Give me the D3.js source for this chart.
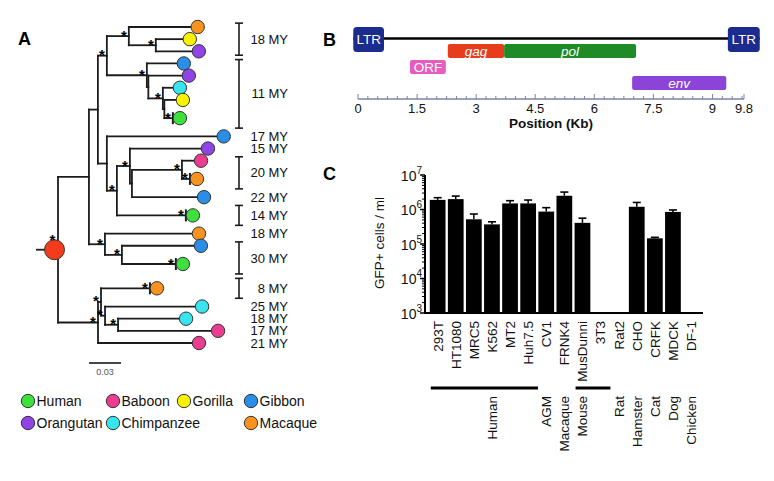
<!DOCTYPE html>
<html><head><meta charset="utf-8">
<script src="https://cdn.jsdelivr.net/npm/d3@7"></script>
<style>
body{margin:0;background:#fff;}
svg{display:block;font-family:"Liberation Sans",Arial,Helvetica,sans-serif;}
</style></head><body>
<svg id="c" width="774" height="481"></svg>
<script>
// ================= DATA =================
// Panel A: species legend
const species = ["Human","Baboon","Gorilla","Gibbon","Orangutan","Chimpanzee","Macaque"];
const speciesColors = ["#3ee03e","#ea3d8f","#f8f200","#2a8de6","#8f45e6","#38e4ee","#f7931e"];
// Panel A: phylogeny (branch lengths in substitutions/site; '*' = supported node, '#' = collapsed clade)
const treeNewick = `(((
  ((Macaque:0.058,(Gorilla:0.0253,Orangutan:0.0338)*:0.0253)*:0.0206,
   (Gibbon:0.0281,(Orangutan:0.0314,(Chimpanzee:0.0094,(Gorilla:0.0108,Human#*:0.008):0.0014)*:0.0136):0.0014)*:0.0375)*:0.0084,
  (Gibbon:0.103,((Orangutan:0.0666,((Baboon:0.0113,Macaque#*:0.0075)*:0.0469,Gibbon:0.061):0.0019)*:0.0122,Human#*:0.0647)*:0.0094):0.0084
 ):0.0084,
 (Macaque:0.0816,(Gibbon:0.0675,Human#*:0.0506)*:0.0159)*:0.015
):0.029,
((Macaque#*:0.0459,(Chimpanzee:0.0844,(Chimpanzee:0.0572,Baboon:0.0872)*:0.0122)*:0.0038)*:0.0028,Baboon:0.0881)*:0.0375
)*;`;
const scaleBarValue = 0.03;
// Panel A: age labels (leaf index ranges, 1-based)
const ageLabels = ["18 MY","11 MY","17 MY","15 MY","20 MY","22 MY","14 MY","18 MY","30 MY","8 MY","25 MY","18 MY","17 MY","21 MY"];
const ageFrom   = [1, 4, 9, 10, 11, 13, 14, 15, 16, 18, 19, 20, 21, 22];
const ageTo     = [3, 8, 9, 10, 12, 13, 14, 15, 17, 18, 19, 20, 21, 22];
const ageBracket= [true,true,false,false,true,false,true,false,true,true,false,false,false,false];

// Panel B: genome map (kb)
const geneNames  = ["LTR","LTR","gag","pol","ORF","env"];
const geneStart  = [-0.12, 9.39, 2.28, 3.71, 1.32, 6.96];
const geneEnd    = [0.66, 10.2, 3.71, 7.06, 2.23, 9.35];
const geneRow    = [0, 0, 1, 1, 2, 3];
const geneItalic = [false,false,true,true,false,true];
const geneColors = ["#1b2b8e","#1b2b8e","#e63e1c","#1f8b27","#e65cbf","#8b43d8"];
const genomeTicks = [0, 1.5, 3, 4.5, 6, 7.5, 9, 9.8];
const genomeMax = 9.8;

// Panel C: titers
const cellLines = ["293T","HT1080","MRC5","K562","MT2","Huh7.5","CV1","FRNK4","MusDunni","3T3","Rat2","CHO","CRFK","MDCK","DF-1"];
const titers    = [1.9e6, 2.0e6, 5.2e5, 3.7e5, 1.5e6, 1.5e6, 8.7e5, 2.5e6, 4.1e5, 0, 0, 1.2e6, 1.46e5, 8.5e5, 0];
const titerUpper= [2.2e6, 2.45e6, 7.4e5, 4.4e5, 1.8e6, 1.88e6, 1.13e6, 3.2e6, 5.6e5, 0, 0, 1.6e6, 1.56e5, 9.7e5, 0];
const hostLabels = ["","","","Human","","","AGM","Macaque","Mouse","","Rat","Hamster","Cat","Dog","Chicken"];
const hostGroupFrom = ["293T","MusDunni"];
const hostGroupTo   = ["Huh7.5","3T3"];
const yTicksC = [1e3, 1e4, 1e5, 1e6, 1e7];

// ================= HELPERS =================
function parseNewick(str){
  const s = str.replace(/\s+/g,''); let i = 0;
  function node(){
    const n = {};
    if (s[i] === '('){ i++; n.children = [node()]; while (s[i] === ','){ i++; n.children.push(node()); } i++; }
    let label = ''; while (i < s.length && !':,);'.includes(s[i])) label += s[i++];
    n.bl = 0;
    if (s[i] === ':'){ i++; let num=''; while (i < s.length && !',);'.includes(s[i])) num += s[i++]; n.bl = +num; }
    n.star = label.includes('*'); n.collapsed = label.includes('#'); n.name = label.replace(/[#*]/g,'');
    return n;
  }
  return node();
}

const svg = d3.select("#c");
const ink = "#1c1c1c";
const color = d3.scaleOrdinal(species, speciesColors);

// ================= PANEL A =================
const gA = svg.append("g");
gA.append("text").attr("x",18).attr("y",45).attr("font-size",18).attr("font-weight","bold").text("A");

const root = d3.hierarchy(parseNewick(treeNewick), d => d.children);
root.each(d => { d.len = d.parent ? d.parent.len + d.data.bl : 0; });
const leaves = root.leaves();
let u = 0;
leaves.forEach((l,i) => {
  l.w = l.data.collapsed ? 2 : 1;
  if (i > 0) u += (leaves[i-1].w + l.w) / 2;
  l.unit = u;
});
const yA = d3.scaleLinear().domain([0, u]).range([27, 343]);
root.eachAfter(d => {
  d.y = d.children ? (d.children[0].y + d.children[d.children.length-1].y) / 2 : yA(d.unit);
});
const xA = d3.scaleLinear().domain([0, scaleBarValue]).range([58, 90]);
const R = 6.7;

// horizontal branches
gA.append("g").selectAll("line").data(root.descendants().filter(d => d.parent)).join("line")
  .attr("x1", d => xA(d.parent.len)).attr("x2", d => xA(d.len))
  .attr("y1", d => d.y).attr("y2", d => d.y)
  .attr("stroke", ink).attr("stroke-width", 1.8).attr("stroke-linecap","square");
// vertical connectors
gA.append("g").selectAll("line").data(root.descendants().filter(d => d.children)).join("line")
  .attr("x1", d => xA(d.len)).attr("x2", d => xA(d.len))
  .attr("y1", d => d.children[0].y).attr("y2", d => d.children[d.children.length-1].y)
  .attr("stroke", ink).attr("stroke-width", 1.8).attr("stroke-linecap","square");
// collapsed-clade ticks
gA.append("g").selectAll("line").data(leaves.filter(d => d.data.collapsed)).join("line")
  .attr("x1", d => xA(d.len)).attr("x2", d => xA(d.len))
  .attr("y1", d => d.y - 6).attr("y2", d => d.y + 6)
  .attr("stroke", ink).attr("stroke-width", 2);
// leaf circles
gA.append("g").selectAll("circle").data(leaves).join("circle")
  .attr("cx", d => xA(d.len) + R + 0.3).attr("cy", d => d.y).attr("r", R)
  .attr("fill", d => color(d.data.name)).attr("stroke", "#333").attr("stroke-width", 1);
// support stars
gA.append("g").selectAll("text").data(root.descendants().filter(d => d.parent && d.data.star)).join("text")
  .attr("x", d => xA(d.len) - 5).attr("y", d => d.y + 4.5)
  .attr("text-anchor","middle").attr("font-size",15).attr("font-weight","bold").attr("fill","#000").text("*");
// root
const rcx = xA(0) - 3.5;
gA.append("line").attr("x1", 36).attr("x2", rcx - 9).attr("y1", root.y).attr("y2", root.y)
  .attr("stroke", ink).attr("stroke-width", 1.8);
gA.append("circle").attr("cx", rcx).attr("cy", root.y).attr("r", 10)
  .attr("fill", "#f23c1c").attr("stroke", "#333").attr("stroke-width", 1);
gA.append("text").attr("x", rcx - 2).attr("y", root.y - 5).attr("text-anchor","middle")
  .attr("font-size",15).attr("font-weight","bold").attr("fill","#000").text("*");

// age brackets and labels
const ages = ageLabels.map((t,i) => {
  const a = leaves[ageFrom[i]-1], b = leaves[ageTo[i]-1];
  return {t, bracket: ageBracket[i],
    y0: yA(a.unit - a.w/2) + 2.2, y1: yA(b.unit + b.w/2) - 2.2, yc: (a.y + b.y)/2};
});
const bx = 239;
const gAge = gA.append("g");
ages.filter(d => d.bracket).forEach(d => {
  gAge.append("line").attr("x1",bx).attr("x2",bx).attr("y1",d.y0).attr("y2",d.y1).attr("stroke",ink).attr("stroke-width",1.6);
  [d.y0, d.y1].forEach(yy => gAge.append("line").attr("x1",bx-4).attr("x2",bx+4).attr("y1",yy).attr("y2",yy).attr("stroke",ink).attr("stroke-width",1.6));
});
gAge.selectAll("text").data(ages).join("text")
  .attr("x", 288).attr("y", d => (d.bracket ? (d.y0 + d.y1)/2 : d.yc) + 4.6)
  .attr("text-anchor","end").attr("font-size",13).attr("fill","#111").text(d => d.t);

// scale bar
const sbx = 89;
gA.append("line").attr("x1", sbx).attr("x2", sbx + xA(scaleBarValue) - xA(0)).attr("y1",363).attr("y2",363)
  .attr("stroke","#333").attr("stroke-width",1.8);
gA.append("text").attr("x", sbx + (xA(scaleBarValue) - xA(0))/2).attr("y",375).attr("text-anchor","middle")
  .attr("font-size",9).attr("fill","#555").text(d3.format(".2f")(scaleBarValue));

// legend
const legCols = [28, 113, 184, 251];
const legPos = species.map((s,i) => i < 4 ? {x: legCols[i], y: 401} : {x: legCols[[0,1,3][i-4]], y: 423});
const gL = gA.append("g");
species.forEach((s,i) => {
  gL.append("circle").attr("cx", legPos[i].x).attr("cy", legPos[i].y).attr("r", R)
    .attr("fill", color(s)).attr("stroke","#333").attr("stroke-width",1);
  gL.append("text").attr("x", legPos[i].x + 8.5).attr("y", legPos[i].y + 5)
    .attr("font-size",14).attr("fill","#111").text(s);
});

// ================= PANEL B =================
const gB = svg.append("g");
gB.append("text").attr("x",323).attr("y",46).attr("font-size",18).attr("font-weight","bold").text("B");
const xB = d3.scaleLinear().domain([0, genomeMax]).range([358, 744]);
const rowTop = r => r === 0 ? 27 : 44 + (r-1)*16;
const rowH = r => r === 0 ? 25 : 14;
gB.append("line").attr("x1", xB(geneStart[0])).attr("x2", xB(geneEnd[1])).attr("y1",38.5).attr("y2",38.5)
  .attr("stroke","#000").attr("stroke-width",2.5);
geneNames.forEach((g,i) => {
  const x0 = xB(geneStart[i]), x1 = xB(geneEnd[i]);
  gB.append("rect").attr("x", x0).attr("y", rowTop(geneRow[i])).attr("width", x1 - x0).attr("height", rowH(geneRow[i]))
    .attr("rx", geneRow[i] === 0 ? 3.5 : 2).attr("fill", geneColors[i]);
  gB.append("text").attr("x", (x0 + x1)/2).attr("y", rowTop(geneRow[i]) + rowH(geneRow[i])/2 + 4.7)
    .attr("text-anchor","middle").attr("font-size",13.5).attr("fill","#fff")
    .attr("font-style", geneItalic[i] ? "italic" : "normal").text(g);
});
const axisY = 99;
const axCol = "#7d85aa";
gB.append("line").attr("x1", xB(0)).attr("x2", xB(genomeMax)).attr("y1",axisY).attr("y2",axisY).attr("stroke",axCol).attr("stroke-width",1.3);
const minor = d3.range(0, genomeMax, 0.25).concat([genomeMax]);
gB.append("g").selectAll("line").data(minor).join("line")
  .attr("x1", d => xB(d)).attr("x2", d => xB(d))
  .attr("y1", axisY).attr("y2", d => genomeTicks.includes(d) ? axisY - 5 : axisY - 3)
  .attr("stroke", axCol).attr("stroke-width",1);
gB.append("g").selectAll("text").data(genomeTicks).join("text")
  .attr("x", d => xB(d)).attr("y", 113).attr("text-anchor","middle").attr("font-size",13).attr("fill","#111")
  .text(d => d);
gB.append("text").attr("x", (xB(0)+xB(genomeMax))/2).attr("y",128).attr("text-anchor","middle")
  .attr("font-size",13.5).attr("font-weight","bold").attr("fill","#111").text("Position (Kb)");

// ================= PANEL C =================
const gC = svg.append("g");
gC.append("text").attr("x",323).attr("y",180).attr("font-size",18).attr("font-weight","bold").text("C");
const xC = d3.scaleBand().domain(cellLines).range([428.6, 700.1]).paddingInner(0.13).paddingOuter(0.065);
const yC = d3.scaleLog().domain([1e3, 1e7]).range([313, 175]);
const axX = 425;
// bars
cellLines.forEach((c,i) => {
  if (!titers[i]) return;
  const x0 = xC(c), w = xC.bandwidth(), cx = x0 + w/2;
  gC.append("line").attr("x1",cx).attr("x2",cx).attr("y1",yC(titers[i])).attr("y2",yC(titerUpper[i])).attr("stroke","#000").attr("stroke-width",1.5);
  gC.append("line").attr("x1",cx-4).attr("x2",cx+4).attr("y1",yC(titerUpper[i])).attr("y2",yC(titerUpper[i])).attr("stroke","#000").attr("stroke-width",1.6);
  gC.append("rect").attr("x",x0).attr("y",yC(titers[i])).attr("width",w).attr("height",yC(1e3)-yC(titers[i])).attr("fill","#000");
});
// y axis
const minorC = [];
[1e3,1e4,1e5,1e6].forEach(b => { for (let k=2;k<=9;k++) minorC.push(b*k); });
gC.append("g").selectAll("line").data(minorC).join("line")
  .attr("x1", axX - 3).attr("x2", axX).attr("y1", d => yC(d)).attr("y2", d => yC(d)).attr("stroke","#000").attr("stroke-width",1);
gC.append("g").selectAll("line").data(yTicksC).join("line")
  .attr("x1", axX - 5).attr("x2", axX).attr("y1", d => yC(d)).attr("y2", d => yC(d)).attr("stroke","#000").attr("stroke-width",1.5);
gC.append("line").attr("x1",axX).attr("x2",axX).attr("y1",yC(1e7)).attr("y2",yC(1e3)+1).attr("stroke","#000").attr("stroke-width",2);
gC.append("line").attr("x1",axX).attr("x2",703).attr("y1",yC(1e3)).attr("y2",yC(1e3)).attr("stroke","#000").attr("stroke-width",2);
yTicksC.forEach(v => {
  const t = gC.append("text").attr("x", 422).attr("y", yC(v) + 5.5).attr("text-anchor","end").attr("font-size",14).attr("fill","#111");
  t.append("tspan").text("10");
  t.append("tspan").attr("dy",-7).attr("font-size",10).text(Math.round(Math.log10(v)));
});
gC.append("text").attr("transform","translate(384,243) rotate(-90)").attr("text-anchor","middle")
  .attr("font-size",13.5).attr("fill","#111").text("GFP+ cells / ml");
// category labels
gC.append("g").selectAll("text").data(cellLines).join("text")
  .attr("transform", d => `translate(${xC(d)+xC.bandwidth()/2},321) rotate(-90)`)
  .attr("text-anchor","end").attr("dy","0.36em").attr("font-size",13.5).attr("fill","#111").text(d => d);
// host groups
hostGroupFrom.forEach((f,i) => {
  gC.append("line").attr("x1", xC(f)+1).attr("x2", xC(hostGroupTo[i]) + xC.bandwidth() + 2)
    .attr("y1",388).attr("y2",388).attr("stroke","#000").attr("stroke-width",3);
});
gC.append("g").selectAll("text").data(cellLines.map((c,i) => ({c, t: hostLabels[i]})).filter(d => d.t)).join("text")
  .attr("transform", d => `translate(${xC(d.c)+xC.bandwidth()/2},396) rotate(-90)`)
  .attr("text-anchor","end").attr("dy","0.36em").attr("font-size",13.5).attr("fill","#111").text(d => d.t);
</script>
</body></html>
